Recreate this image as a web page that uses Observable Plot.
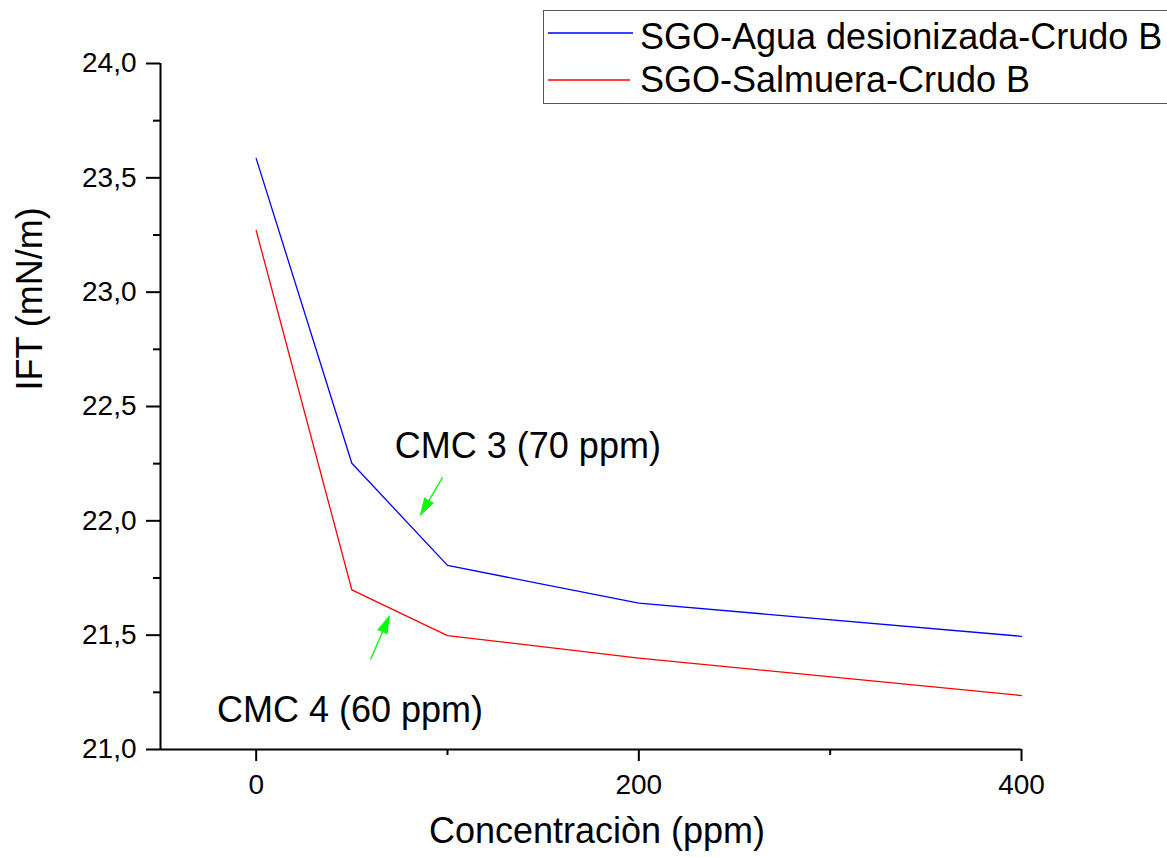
<!DOCTYPE html>
<html>
<head>
<meta charset="utf-8">
<script src="https://cdn.jsdelivr.net/npm/d3@7"></script>
<script src="https://cdn.jsdelivr.net/npm/@observablehq/plot@0.6"></script>
<style>
  body { margin: 0; background: #fff; font-family: "Liberation Sans", Arial, sans-serif; }
  #wrap { position: relative; width: 1167px; height: 857px; overflow: hidden; }
  #legend { position: absolute; left: 543px; top: 10px; width: 700px; height: 92px;
            border: 1px solid #555; background: #fff; font-size: 36px; color: #000; }
  .lab { position: absolute; left: 96px; height: 44px; line-height: 44px; white-space: nowrap; }
  #legsvg { position: absolute; left: 0; top: 0; }
</style>
</head>
<body>
<div id="wrap">
  <div id="chart"></div>
  <div id="legend"><svg id="legsvg" width="100" height="92"></svg></div>
</div>
<script>
// ---- data ----
const concentration = [0, 50, 100, 200, 400];
const iftAgua = [23.585, 22.252, 21.805, 21.64, 21.495];
const iftSalmuera = [23.27, 21.698, 21.498, 21.40, 21.236];
const seriesNames = ["SGO-Agua desionizada-Crudo B", "SGO-Salmuera-Crudo B"];
const seriesColors = ["#0000ff", "#ff0000"];
const yMajorTicks = [21, 21.5, 22, 22.5, 23, 23.5, 24];
const yMinorTicks = [21.25, 21.75, 22.25, 22.75, 23.25, 23.75];
const xMajorTicks = [0, 200, 400];
const xMinorTicks = [100, 300];
const xLabel = "Concentraciòn (ppm)";
const yLabel = "IFT (mN/m)";
const annoLabels = ["CMC 3 (70 ppm)", "CMC 4 (60 ppm)"];
const annoTextX = [142, 49];
const annoTextY = [22.325, 21.17];
const arrowFromX = [97.4, 59.8];
const arrowFromY = [22.19, 21.394];
const arrowToX = [85.9, 69.5];
const arrowToY = [22.026, 21.582];

// ---- layout ----
const W = 1167, H = 857;
const mL = 160, mR = 146, mT = 63, mB = 108;
const xDomain = [-50, 400], yDomain = [21, 24];
const kx = (W - mL - mR) / (xDomain[1] - xDomain[0]);
const ky = (H - mT - mB) / (yDomain[1] - yDomain[0]);

const lineData = [];
seriesNames.forEach((s, i) => {
  const vals = i === 0 ? iftAgua : iftSalmuera;
  concentration.forEach((c, j) => lineData.push({series: s, x: c, y: vals[j]}));
});
const annos = annoLabels.map((l, i) => ({
  label: l, tx: annoTextX[i], ty: annoTextY[i],
  x1: arrowFromX[i], y1: arrowFromY[i], x2: arrowToX[i], y2: arrowToY[i]
}));
const angle = d => {
  const dx = (d.x2 - d.x1) * kx, dy = -(d.y2 - d.y1) * ky;
  return Math.atan2(dx, -dy) * 180 / Math.PI;
};
const fmt = d => d.toFixed(1).replace(".", ",");

const chart = Plot.plot({
  width: W, height: H,
  marginLeft: mL, marginRight: mR, marginTop: mT, marginBottom: mB,
  style: {fontFamily: "'Liberation Sans', Arial, sans-serif", color: "#000", background: "#fff", overflow: "visible"},
  x: {domain: xDomain},
  y: {domain: yDomain},
  color: {domain: seriesNames, range: seriesColors},
  marks: [
    Plot.axisY({ticks: yMajorTicks, tickSize: 14, tickPadding: 10, tickFormat: fmt, fontSize: 28, strokeWidth: 2, label: null}),
    Plot.axisY({ticks: yMinorTicks, tickSize: 7, text: null, strokeWidth: 2, label: null}),
    Plot.axisX({ticks: xMajorTicks, tickSize: 12, tickPadding: 13, fontSize: 28, strokeWidth: 2, label: null}),
    Plot.axisX({ticks: xMinorTicks, tickSize: 6, text: null, strokeWidth: 2, label: null}),
    Plot.ruleX([xDomain[0]], {stroke: "#000", strokeWidth: 2}),
    Plot.ruleY([yDomain[0]], {stroke: "#000", strokeWidth: 2}),
    Plot.text([xLabel], {frameAnchor: "bottom", dy: 93, dx: 6, fontSize: 36, fill: "#000"}),
    Plot.text([yLabel], {frameAnchor: "left", dx: -130, dy: -16, rotate: -90, fontSize: 36, fill: "#000"}),
    Plot.line(lineData, {x: "x", y: "y", z: "series", stroke: "series", strokeWidth: 1.3}),
    Plot.link(annos, {x1: "x1", y1: "y1", x2: "x2", y2: "y2", stroke: "#00ff00", strokeWidth: 1.3}),
    Plot.vector(annos, {x: "x2", y: "y2", length: 17, rotate: angle, shape: "spike", anchor: "end", r: 5, fill: "#00ff00", stroke: "#00ff00", strokeWidth: 1}),
    Plot.text(annos, {x: "tx", y: "ty", text: "label", fontSize: 36, fill: "#000"})
  ]
});
document.getElementById("chart").appendChild(chart);

// legend (HTML overlay)
const legend = document.getElementById("legend");
const legsvg = d3.select("#legsvg");
const swatchY = [22, 69];
const textTop = [4, 47];
seriesNames.forEach((s, i) => {
  legsvg.append("line")
    .attr("x1", 4).attr("x2", i === 0 ? 89 : 86)
    .attr("y1", swatchY[i]).attr("y2", swatchY[i])
    .attr("stroke", seriesColors[i]).attr("stroke-width", 1.5);
  const lab = document.createElement("span");
  lab.className = "lab";
  lab.style.top = textTop[i] + "px";
  lab.textContent = s;
  legend.appendChild(lab);
});
</script>
</body>
</html>
